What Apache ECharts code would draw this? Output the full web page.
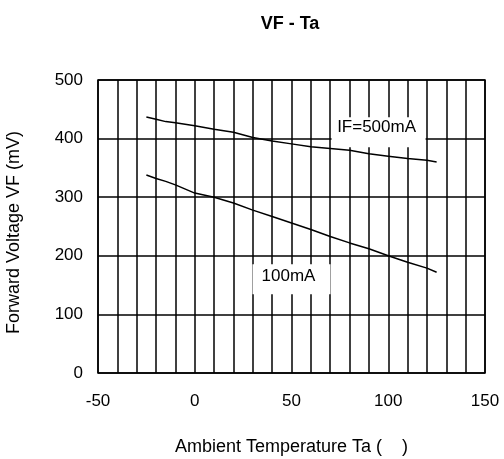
<!DOCTYPE html>
<html><head><meta charset="utf-8">
<script src="https://cdn.jsdelivr.net/npm/echarts@6/dist/echarts.min.js"></script>
<style>html,body{margin:0;padding:0;background:#fff}#c{width:504px;height:459px}</style>
</head><body><div id="c"></div>
<script>
const temps = [-25, -20, -15, -10, 0, 10, 20, 30, 40, 50, 60, 70, 80, 90, 100, 110, 120, 125];
const vf500 = [437, 433, 429, 427, 422, 416, 411, 402, 396, 391, 386, 383, 380, 374, 370, 366, 363, 360];
const vf100 = [338, 332, 327, 321, 307, 300, 290, 278, 267, 256, 245, 233, 222, 212, 200, 189, 179, 172];
const labels = [
  { name: 'IF=500mA', x: 95, y: 411, w: 94, h: 30 },
  { name: '100mA', x: 50, y: 160, w: 78, h: 30 }
];
const font = 'Liberation Sans, Arial, sans-serif';
const chart = echarts.init(document.getElementById('c'));
chart.setOption({
  animation: false,
  title: { text: 'VF - Ta', left: 285, top: 10, textAlign: 'center',
    textStyle: { fontFamily: font, fontSize: 18, fontWeight: 'bold', color: '#000' } },
  grid: { left: 98, right: 19, top: 80, bottom: 86, show: true, borderColor: '#000', borderWidth: 1.5,
    containLabel: false, outerBoundsMode: 'none' },
  xAxis: {
    type: 'value', min: -50, max: 150, interval: 10,
    name: 'Ambient Temperature Ta (    )', nameLocation: 'middle', nameGap: 65,
    nameTextStyle: { fontFamily: font, fontSize: 18, color: '#000' },
    axisLine: { show: false }, axisTick: { show: false },
    axisLabel: { fontFamily: font, fontSize: 17, color: '#000', margin: 20,
      formatter: v => (v % 50 === 0 ? String(v) : '') },
    splitLine: { show: true, lineStyle: { color: '#000', width: 1.5 } }
  },
  yAxis: {
    type: 'value', min: 0, max: 500, interval: 100,
    name: 'Forward Voltage VF (mV)', nameLocation: 'middle', nameGap: 75,
    nameTextStyle: { fontFamily: font, fontSize: 18, color: '#000', padding: [0, 12, 0, 0] },
    axisLine: { show: false }, axisTick: { show: false },
    axisLabel: { fontFamily: font, fontSize: 17, color: '#000', margin: 15 },
    splitLine: { show: true, lineStyle: { color: '#000', width: 1.5 } }
  },
  series: [
    { type: 'line', data: temps.map((t, i) => [t, vf500[i]]), showSymbol: false, smooth: false,
      lineStyle: { color: '#000', width: 1.5 },
      markPoint: { symbol: 'rect', silent: true,
        data: [{ coord: [labels[0].x, labels[0].y], symbolSize: [labels[0].w, labels[0].h],
          itemStyle: { color: '#fff' },
          label: { show: true, formatter: labels[0].name, color: '#000', fontFamily: font, fontSize: 17, offset: [-2, -5] } }] } },
    { type: 'line', data: temps.map((t, i) => [t, vf100[i]]), showSymbol: false, smooth: false,
      lineStyle: { color: '#000', width: 1.5 },
      markPoint: { symbol: 'rect', silent: true,
        data: [{ coord: [labels[1].x, labels[1].y], symbolSize: [labels[1].w, labels[1].h],
          itemStyle: { color: '#fff' },
          label: { show: true, formatter: labels[1].name, color: '#000', fontFamily: font, fontSize: 17, offset: [-3, -3] } }] } }
  ]
});
</script></body></html>
